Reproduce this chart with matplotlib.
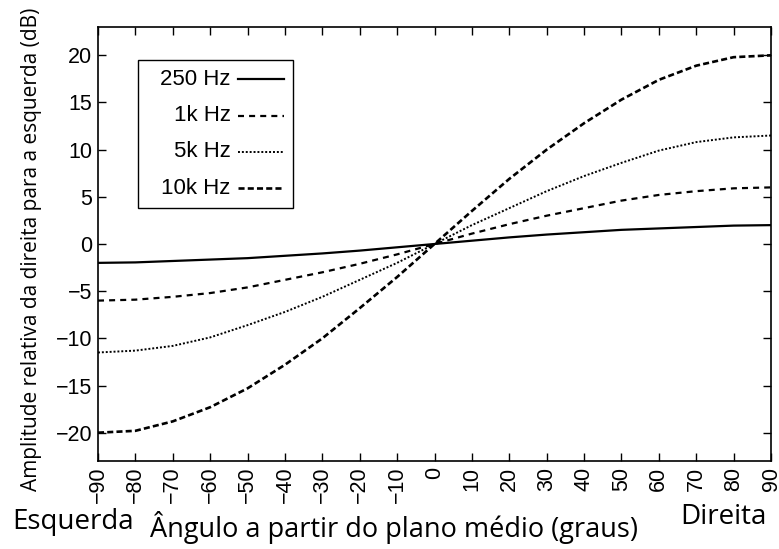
import matplotlib.pyplot as plt
from matplotlib.patches import Rectangle

# --- Datos ---
angulos = [-90, -80, -70, -60, -50, -40, -30, -20, -10, 0, 10, 20, 30, 40, 50, 60, 70, 80, 90]

amp_250 = [-2.0, -1.95, -1.8, -1.65, -1.5, -1.25, -1.0, -0.7, -0.35, 0.0,
           0.35, 0.7, 1.0, 1.25, 1.5, 1.65, 1.8, 1.95, 2.0]
amp_1k = [-6.0, -5.9, -5.6, -5.2, -4.6, -3.8, -3.0, -2.1, -1.1, 0.0,
          1.1, 2.1, 3.0, 3.8, 4.6, 5.2, 5.6, 5.9, 6.0]
amp_5k = [-11.5, -11.3, -10.8, -9.9, -8.6, -7.2, -5.6, -3.8, -2.0, 0.0,
          2.0, 3.8, 5.6, 7.2, 8.6, 9.9, 10.8, 11.3, 11.5]
amp_10k = [-20.0, -19.8, -18.8, -17.3, -15.3, -12.8, -10.0, -6.8, -3.5, 0.0,
           3.5, 6.9, 10.0, 12.8, 15.3, 17.4, 18.9, 19.8, 20.0]

etiquetas = ["250 Hz", "1k Hz", "5k Hz", "10k Hz"]
xticks = list(range(-90, 91, 10))
yticks = list(range(-20, 21, 5))

# estilos de línea para cada serie
estilos = [dict(lw=1.6, linestyle='-'),
           dict(lw=1.6, linestyle=(0, (2.7, 2.3))),
           dict(lw=1.4, linestyle=(0, (1, 1))),
           dict(lw=1.9, linestyle=(0, (2.3, 1.2)))]
series = [amp_250, amp_1k, amp_5k, amp_10k]

# --- Figura ---
plt.rcParams['font.family'] = ['Liberation Sans', 'DejaVu Sans']
fig = plt.figure(figsize=(7.79, 5.49), dpi=100)
ax = fig.add_axes([98 / 779, 88 / 549, 673 / 779, 434 / 549])

for valores, est in zip(series, estilos):
    ax.plot(angulos, valores, color='black', **est)

ax.set_xlim(-90, 90)
ax.set_ylim(-23, 23)
ax.set_xticks(xticks)
ax.set_yticks(yticks)
ax.set_xticklabels([f"\u2212{abs(v)}" if v < 0 else str(v) for v in xticks],
                   rotation=90, fontsize=15.5)
ax.set_yticklabels([f"\u2212{abs(v)}" if v < 0 else str(v) for v in yticks], fontsize=15.5)
ax.tick_params(direction='in', length=6, width=1, top=True, right=True, pad=4)
for s in ax.spines.values():
    s.set_linewidth(1.2)

# --- Leyenda manual: texto alineado a la derecha y muestra de línea después ---
ax.add_patch(Rectangle((0.0594, 0.583), 0.2303, 0.341, transform=ax.transAxes,
                       facecolor='white', edgecolor='black', lw=1.0, zorder=5))
filas_y = [0.880, 0.795, 0.712, 0.629]
for texto, fy, est in zip(etiquetas, filas_y, estilos):
    ax.text(0.197, fy, texto, transform=ax.transAxes, ha='right', va='center',
            fontsize=16, zorder=6)
    ax.plot([0.208, 0.277], [fy, fy], transform=ax.transAxes, color='black',
            zorder=6, **est)

# Textos de ejes
fig.text(0.041, 0.545, "Amplitude relativa da direita para a esquerda (dB)",
         rotation=90, ha='center', va='center', fontsize=15, family='Open Sans')
fig.text(0.506, 0.040, "Ângulo a partir do plano médio (graus)",
         ha='center', va='center', fontsize=19.5, family='Open Sans')
fig.text(0.094, 0.049, "Esquerda", ha='center', va='center', fontsize=20, family='Open Sans')
fig.text(0.929, 0.058, "Direita", ha='center', va='center', fontsize=20, family='Open Sans')

fig.savefig("out.png", dpi=100)
